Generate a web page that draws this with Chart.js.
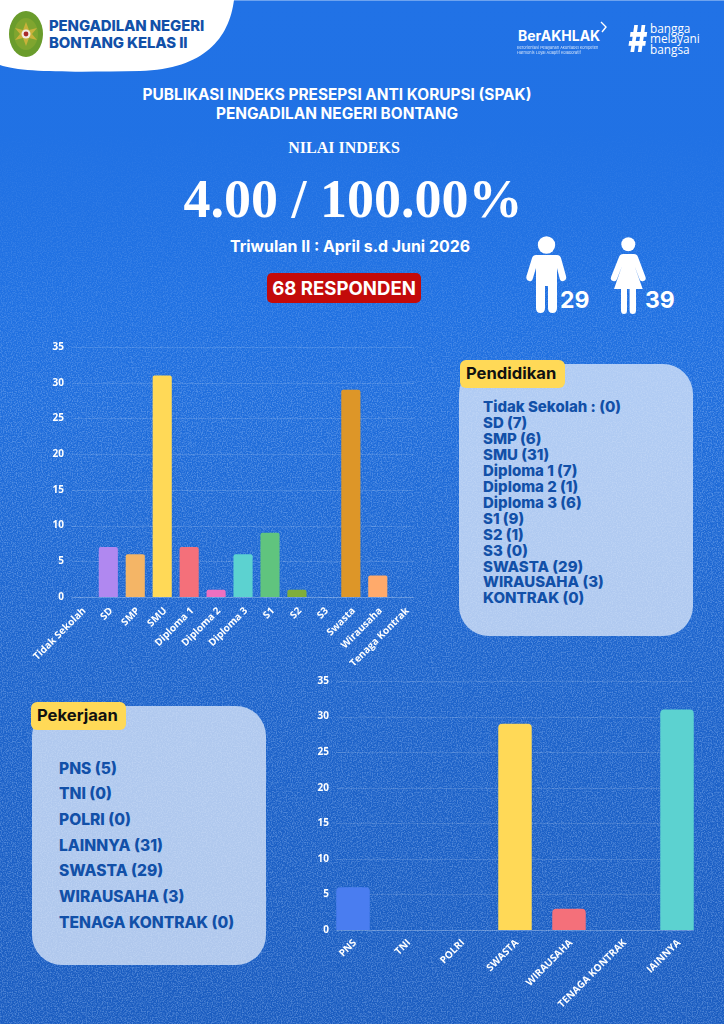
<!DOCTYPE html>
<html>
<head>
<meta charset="utf-8">
<title>Publikasi Indeks SPAK</title>
<script src="https://cdn.jsdelivr.net/npm/chart.js@4"></script>
<style>
html, body { margin: 0; padding: 0; }
body { width: 724px; height: 1024px; overflow: hidden; position: relative; font-family: Inter, "Open Sans", sans-serif; color: #fff;
	background: linear-gradient(180deg, #2172e6 0%, #2071e2 30%, #1d64cc 65%, #1a5cc0 100%); }
#noise { position: absolute; left: 0; top: 0; width: 724px; height: 1024px; opacity: 0.33;
	background-image: url("data:image/svg+xml,%3Csvg xmlns='http://www.w3.org/2000/svg' width='300' height='300'%3E%3Cfilter id='n'%3E%3CfeTurbulence type='fractalNoise' baseFrequency='0.8' numOctaves='2' stitchTiles='stitch'/%3E%3CfeColorMatrix values='0 0 0 0 0.45 0 0 0 0 0.65 0 0 0 0 1 0 0 0 3 -1.2'/%3E%3C/filter%3E%3Crect width='300' height='300' filter='url(%23n)'/%3E%3C/svg%3E");
	-webkit-mask-image: linear-gradient(180deg, transparent 12%, #000 40%); mask-image: linear-gradient(180deg, transparent 12%, #000 40%); }
.txt { position: absolute; white-space: nowrap; }
.center { transform: translateX(-50%); }
.serif { font-family: "Liberation Serif", serif; font-weight: bold; }
canvas { position: absolute; }
.panel { position: absolute; width: 234px; background: rgba(222,232,250,0.76); border-radius: 30px; }
.tag { position: absolute; background: #ffd957; border-radius: 6px; color: #111; font-weight: 700; font-size: 16.6px; height: 28px; line-height: 27px; box-sizing: border-box; padding-left: 6px; }
.list { position: absolute; color: #1250a8; font-weight: 800; }
</style>
</head>
<body>
<div id="noise"></div>

<svg style="position:absolute;left:0;top:0" width="724" height="110">
	<rect x="0" y="0" width="724" height="1" fill="#fff" opacity="0.35"/>
	<path d="M0 0 H234 C229 38 205 69 140 71 C80 72 22 73 0 65 Z" fill="#fff"/>
	<ellipse cx="26" cy="34" rx="17" ry="23" fill="#6a9c2c"/>
	<ellipse cx="26" cy="34" rx="12" ry="16" fill="#7fa52f"/>
	<path d="M26 22 L29 30 L37 28 L32 34 L37 40 L29 38 L26 46 L23 38 L15 40 L20 34 L15 28 L23 30 Z" fill="#c9b23a"/>
	<circle cx="26" cy="34" r="4.5" fill="#f1ece0"/>
	<circle cx="26" cy="34" r="2.4" fill="#a82a2a"/>
	<polyline points="601,22 606,27 602,32" fill="none" stroke="#fff" stroke-width="1.4"/>
</svg>
<div class="txt" style="left:49px;top:18px;font-size:14.9px;line-height:17px;font-weight:800;color:#1250a8;letter-spacing:-0.1px">PENGADILAN NEGERI<br>BONTANG KELAS II</div>

<div class="txt" style="left:518px;top:27px;font-size:14px;font-weight:700">BerAKHLAK</div>
<div class="txt" style="left:517px;top:46px;font-size:3.9px;line-height:4.7px;opacity:.8">Berorientasi Pelayanan Akuntabel Kompeten<br>Harmonis Loyal Adaptif Kolaboratif</div>
<div class="txt" style="left:628px;top:17px;font-size:37px;font-weight:800;line-height:44px;font-style:italic;transform:scaleX(0.78);transform-origin:left top">#</div>
<div class="txt" style="left:650px;top:22.5px;font-size:11.8px;line-height:10.6px;font-family:'Open Sans',sans-serif">bangga<br>melayani<br>bangsa</div>

<div class="txt center" style="left:337px;top:85px;font-size:15.4px;font-weight:700;line-height:19px;text-align:center">PUBLIKASI INDEKS PRESEPSI ANTI KORUPSI (SPAK)<br>PENGADILAN NEGERI BONTANG</div>
<div class="txt center serif" style="left:344px;top:139px;font-size:16px">NILAI INDEKS</div>
<div class="txt center serif" style="left:353px;top:169px;font-size:54px;line-height:60px">4.00 / 100.00%</div>
<div class="txt center" style="left:350px;top:237px;font-size:15.9px;font-weight:700">Triwulan II : April s.d Juni 2026</div>
<div class="txt" style="left:267px;top:273px;width:154px;height:30px;line-height:30px;background:#c30a0a;border-radius:5px;text-align:center;font-size:18.6px;font-weight:700">68 RESPONDEN</div>

<svg style="position:absolute;left:510px;top:230px" width="200" height="90" fill="#fff">
	<circle cx="36.5" cy="15" r="8.7"/>
	<path d="M26 25 H47 Q50 25 51 28 L56 46 Q57 50 53.5 51 Q50.5 52 49.5 48 L47 38 V78 Q47 83 42.5 83 Q38 83 38 78 V56 H35 V78 Q35 83 30.5 83 Q26 83 26 78 V38 L23 48 Q22 52 19 51 Q15.5 50 16.5 46 L22 28 Q23 25 26 25 Z"/>
	<circle cx="118.3" cy="14.3" r="7"/>
	<path d="M113 24 H124 Q127 24 128 27 L135.5 47 Q136.5 50 133.5 51 Q130.5 52 129.5 49 L124.5 36 L132.7 59 H126 V80.5 Q126 84 122.8 84 Q119.6 84 119.6 80.5 V59 H117 V80.5 Q117 84 114 84 Q111 84 111 80.5 V59 H104 L112 36 L107 49 Q106 52 103 51 Q100 50 101 47 L109 27 Q110 24 113 24 Z"/>
</svg>
<div class="txt" style="left:560px;top:286px;font-size:23px;font-weight:700">29</div>
<div class="txt" style="left:645px;top:286px;font-size:23px;font-weight:700">39</div>

<canvas id="chart-pendidikan" width="430" height="330" style="left:0;top:335px"></canvas>
<canvas id="chart-pekerjaan" width="424" height="354" style="left:300px;top:670px"></canvas>

<div class="panel" style="left:459px;top:364px;height:272px"></div>
<div class="tag" style="left:460px;top:360px;width:105px">Pendidikan</div>
<div class="list" id="list-pendidikan" style="left:483px;top:399px;font-size:15px;line-height:15.95px"></div>

<div class="panel" style="left:32px;top:706px;height:259px"></div>
<div class="tag" style="left:31px;top:702px;width:95px">Pekerjaan</div>
<div class="list" id="list-pekerjaan" style="left:59px;top:755.5px;font-size:15.6px;line-height:25.7px"></div>

<script>
var pendidikan_labels = ["Tidak Sekolah", "SD", "SMP", "SMU", "Diploma 1", "Diploma 2", "Diploma 3", "S1", "S2", "S3", "Swasta", "Wirausaha", "Tenaga Kontrak"];
var pendidikan_values = [0, 7, 6, 31, 7, 1, 6, 9, 1, 0, 29, 3, 0];
var pendidikan_colors = ["#4a7df0", "#b088f0", "#f4b566", "#ffd957", "#f4707a", "#ee70c0", "#5cd2d0", "#60c47e", "#7fae3a", "#5b8def", "#dd9628", "#ffaa6b", "#f4707a"];

var pekerjaan_labels = ["PNS", "TNI", "POLRI", "SWASTA", "WIRAUSAHA", "TENAGA KONTRAK", "IAINNYA"];
var pekerjaan_values = [6, 0, 0, 29, 3, 0, 31];
var pekerjaan_colors = ["#4a7df0", "#b088f0", "#f4b566", "#ffd957", "#f4707a", "#ee70c0", "#5cd2d0"];

var y_ticks = [0, 5, 10, 15, 20, 25, 30, 35];

var pendidikan_list = ["Tidak Sekolah : (0)", "SD (7)", "SMP (6)", "SMU (31)", "Diploma 1 (7)", "Diploma 2 (1)", "Diploma 3 (6)", "S1 (9)", "S2 (1)", "S3 (0)", "SWASTA (29)", "WIRAUSAHA (3)", "KONTRAK (0)"];
var pekerjaan_list = ["PNS (5)", "TNI (0)", "POLRI (0)", "LAINNYA (31)", "SWASTA (29)", "WIRAUSAHA (3)", "TENAGA KONTRAK (0)"];

document.getElementById('list-pendidikan').innerHTML = pendidikan_list.join('<br>');
document.getElementById('list-pekerjaan').innerHTML = pekerjaan_list.join('<br>');

// horizontal lines run from the first bar's left edge to the last bar's right edge
var barGrid = {
	id: 'barGrid',
	beforeDatasetsDraw: function (chart) {
		var ctx = chart.ctx,
			y = chart.scales.y,
			bars = chart.getDatasetMeta(0).data,
			half = bars[0].width / 2,
			left = bars[0].x - half,
			right = bars[bars.length - 1].x + half;
		ctx.save();
		ctx.lineWidth = 1;
		y.ticks.forEach(function (t) {
			var py = Math.round(y.getPixelForValue(t.value)) + 0.5;
			ctx.strokeStyle = t.value === 0 ? 'rgba(255,255,255,0.28)' : 'rgba(255,255,255,0.13)';
			ctx.beginPath();
			ctx.moveTo(left, py);
			ctx.lineTo(right, py);
			ctx.stroke();
		});
		ctx.restore();
	}
};

function drawChart(id, labels, values, colors, opt) {
	var ctx = document.getElementById(id).getContext('2d');
	return new Chart(ctx, {
		type: 'bar',
		data: {
			labels: labels,
			datasets: [{
				data: values,
				backgroundColor: colors,
				borderRadius: opt.radius,
				categoryPercentage: 1,
				barPercentage: opt.barPercent,
				clip: false
			}]
		},
		options: {
			responsive: false,
			animation: false,
			layout: { padding: { top: opt.top, right: opt.right, left: 0, bottom: 0 } },
			plugins: { legend: { display: false }, tooltip: { enabled: false } },
			scales: {
				x: {
					offset: opt.offset,
					grid: { display: false, drawTicks: false, offset: opt.offset },
					border: { display: false },
					afterFit: function (s) { s.height = opt.xHeight; s.paddingLeft = 0; s.paddingRight = 0; },
					ticks: {
						color: '#fff',
						autoSkip: false,
						maxRotation: 45,
						minRotation: 45,
						padding: opt.xPad,
						labelOffset: opt.xShift,
						font: { family: 'Open Sans', weight: 'bold', size: 10 }
					}
				},
				y: {
					min: 0,
					max: 35,
					grid: { display: false, drawTicks: false },
					border: { display: false },
					// tick padding also counts as top/bottom padding, drop that so the plot height stays fixed
					afterFit: function (s) { s.width = opt.yWidth; s.paddingTop = 0; s.paddingBottom = 0; },
					afterBuildTicks: function (s) { s.ticks = y_ticks.map(function (v) { return { value: v }; }); },
					ticks: {
						color: '#fff',
						padding: opt.yPad,
						font: { family: 'Open Sans', weight: 'bold', size: 10 }
					}
				}
			}
		},
		plugins: [barGrid]
	});
}

drawChart('chart-pendidikan', pendidikan_labels, pendidikan_values, pendidikan_colors, {
	radius: 2, barPercent: 0.71, offset: true, top: 12, right: 11.8, xHeight: 68, yWidth: 67.9, yPad: 4, xPad: 8, xShift: 3
});
// no axis offset here: the y labels sit right next to the first bar and the scale box would clip them
drawChart('chart-pekerjaan', pekerjaan_labels, pekerjaan_values, pekerjaan_colors, {
	radius: 4, barPercent: 0.62, offset: false, top: 11, right: 47, xHeight: 94, yWidth: 53, yPad: 24, xPad: 7, xShift: 2
});
</script>
</body>
</html>
